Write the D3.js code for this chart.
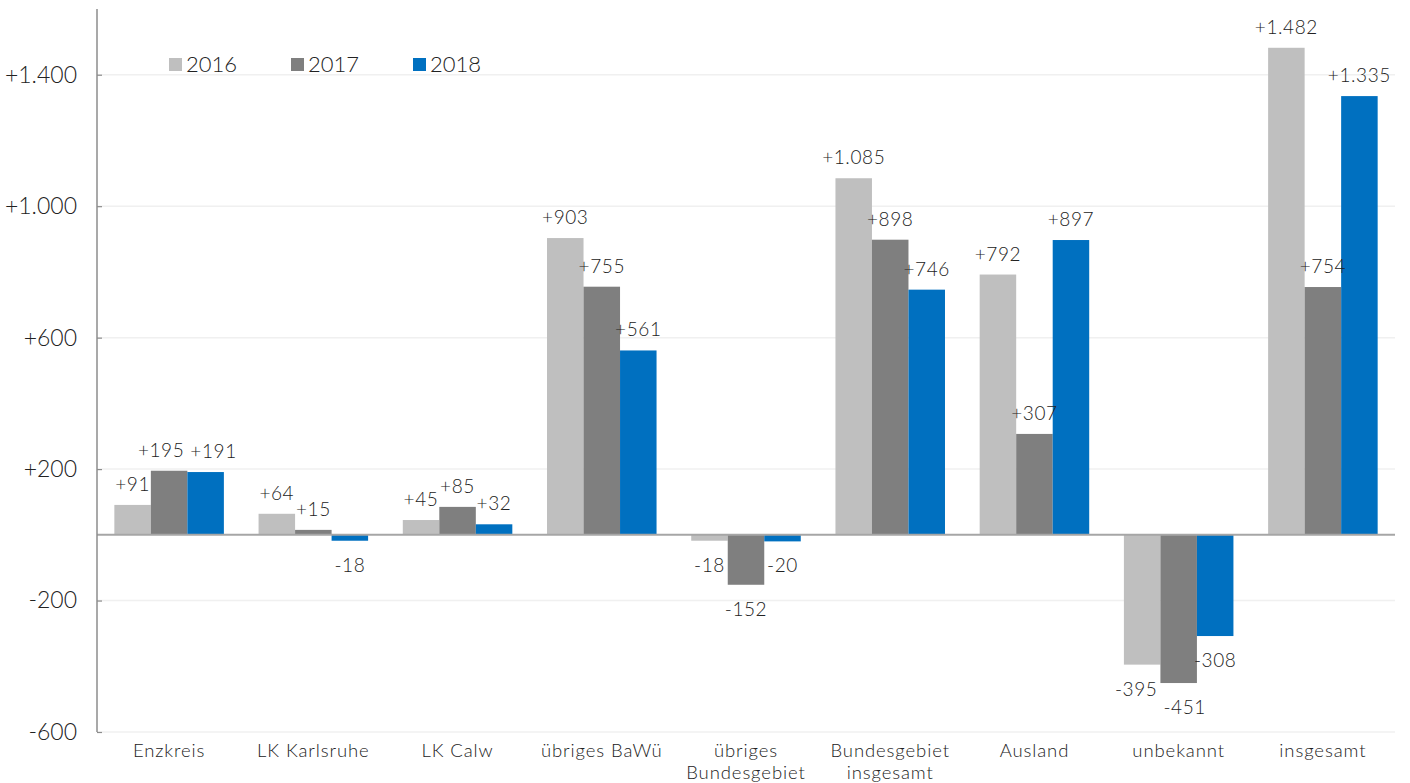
<!DOCTYPE html>
<html lang="de">
<head>
<meta charset="utf-8">
<title>Wanderungssaldo nach Herkunft/Ziel 2016–2018</title>
<script src="https://cdn.jsdelivr.net/npm/d3@7/dist/d3.min.js"></script>
<style>
  html, body { margin: 0; padding: 0; background: #ffffff; }
  svg { display: block; font-family: Lato, "Open Sans", sans-serif; font-weight: 300; }
  .tick text { fill: #222222; }
</style>
</head>
<body>
<svg id="chart" width="1410" height="783"></svg>
<script>
// Kategorien (Herkunfts- bzw. Zielgebiete); "\n" trennt zweizeilige Beschriftungen
const categories = [
  "Enzkreis", "LK Karlsruhe", "LK Calw", "übriges BaWü",
  "übriges\nBundesgebiet", "Bundesgebiet\ninsgesamt", "Ausland",
  "unbekannt", "insgesamt"
];
const years = ["2016", "2017", "2018"];

// Salden je Jahr
const values2016 = [91, 64, 45, 903, -18, 1085, 792, -395, 1482];
const values2017 = [195, 15, 85, 755, -152, 898, 307, -451, 754];
const values2018 = [191, -18, 32, 561, -20, 746, 897, -308, 1335];

const yTicks = [-600, -200, 200, 600, 1000, 1400];
const colors = ["#bfbfbf", "#7f7f7f", "#0070c0"];

const series = [values2016, values2017, values2018];

const de = d3.formatLocale({
  decimal: ",", thousands: ".", grouping: [3], currency: ["", " €"], minus: "-"
});
const fmt = de.format("+,d");

const svg = d3.select("#chart");
const plotLeft = 97, plotRight = 1395, plotTop = 9, plotBottom = 732;

const y = d3.scaleLinear().domain([-600, 1600]).range([plotBottom, plotTop]);
const x0 = d3.scaleBand().domain(categories).range([plotLeft, plotRight]);
const x1 = d3.scaleBand().domain(years).range([0, x0.bandwidth()]).paddingOuter(0.475);
const color = d3.scaleOrdinal().domain(years).range(colors);

// Gitternetzlinien
svg.append("g")
  .selectAll("line")
  .data(yTicks)
  .join("line")
  .attr("x1", plotLeft).attr("x2", plotRight)
  .attr("y1", d => y(d)).attr("y2", d => y(d))
  .attr("stroke", "#f0f0f0").attr("stroke-width", 1.5);

// Balken
const groups = svg.append("g")
  .selectAll("g")
  .data(categories)
  .join("g")
  .attr("transform", d => `translate(${x0(d)},0)`);

const barData = (c, i) => years.map((yr, k) => ({ year: yr, value: series[k][i] }));

groups.selectAll("rect")
  .data(barData)
  .join("rect")
  .attr("x", d => x1(d.year))
  .attr("width", x1.bandwidth())
  .attr("y", d => y(Math.max(0, d.value)))
  .attr("height", d => Math.abs(y(d.value) - y(0)))
  .attr("fill", d => color(d.year));

// Nulllinie
svg.append("line")
  .attr("x1", plotLeft).attr("x2", plotRight)
  .attr("y1", y(0)).attr("y2", y(0))
  .attr("stroke", "#a6a6a6").attr("stroke-width", 2);

// Y-Achse
const yAxis = d3.axisLeft(y)
  .tickValues(yTicks)
  .tickFormat(fmt)
  .tickSizeInner(-5)
  .tickSizeOuter(0)
  .tickPadding(20);

const gy = svg.append("g")
  .attr("transform", `translate(${plotLeft},0)`)
  .call(yAxis);
gy.select(".domain").attr("stroke", "#8c8c8c").attr("stroke-width", 1.5)
  .attr("d", `M0,${plotTop}V${plotBottom}`);
gy.selectAll(".tick line").attr("stroke", "#8c8c8c").attr("stroke-width", 1.2);
gy.selectAll(".tick text")
  .attr("font-size", 23)
  .attr("font-family", "Lato, sans-serif")
  .attr("font-weight", 300);

// Datenbeschriftungen
const valLabels = groups.selectAll("text.val")
  .data(barData)
  .join("text")
  .attr("class", "val")
  .attr("x", d => x1(d.year) + x1.bandwidth() / 2)
  .attr("y", d => d.value >= 0 ? y(d.value) - 14 : y(d.value) + 31)
  .attr("text-anchor", "middle")
  .attr("font-size", 19)
  .attr("letter-spacing", 0.6)
  .attr("fill", "#222222")
  .text(d => fmt(d.value));

// Überlappende Beschriftungen innerhalb einer Gruppe auseinanderschieben
groups.each(function () {
  const texts = d3.select(this).selectAll("text.val").nodes();
  for (let i = 1; i < texts.length; i++) {
    const a = texts[i - 1].getBBox(), b = texts[i].getBBox();
    const overlapX = a.x + a.width - b.x;
    const overlapY = Math.min(a.y + a.height, b.y + b.height) - Math.max(a.y, b.y);
    if (overlapX > 0 && overlapY > 4) {
      const shift = (overlapX + 6) / 2;
      d3.select(texts[i - 1]).attr("x", +texts[i - 1].getAttribute("x") - shift);
      d3.select(texts[i]).attr("x", +texts[i].getAttribute("x") + shift);
    }
  }
});

// Kategorienbeschriftungen
const catLabels = svg.append("g")
  .selectAll("text")
  .data(categories)
  .join("text")
  .attr("x", d => x0(d) + x0.bandwidth() / 2)
  .attr("y", 757)
  .attr("text-anchor", "middle")
  .attr("font-size", 18.5)
  .attr("letter-spacing", 0.9)
  .attr("fill", "#222222");

catLabels.selectAll("tspan")
  .data(d => d.split("\n"))
  .join("tspan")
  .attr("x", function () { return d3.select(this.parentNode).attr("x"); })
  .attr("dy", (d, i) => i === 0 ? 0 : 22)
  .text(d => d);

// Legende
const legendX = [169, 291, 413];
const legend = svg.append("g")
  .selectAll("g")
  .data(years)
  .join("g")
  .attr("transform", (d, i) => `translate(${legendX[i]},58)`);

legend.append("rect")
  .attr("width", 13).attr("height", 13)
  .attr("fill", d => color(d));

legend.append("text")
  .attr("x", 17).attr("y", 14)
  .attr("font-size", 22)
  .attr("fill", "#222222")
  .text(d => d);
</script>
</body>
</html>
